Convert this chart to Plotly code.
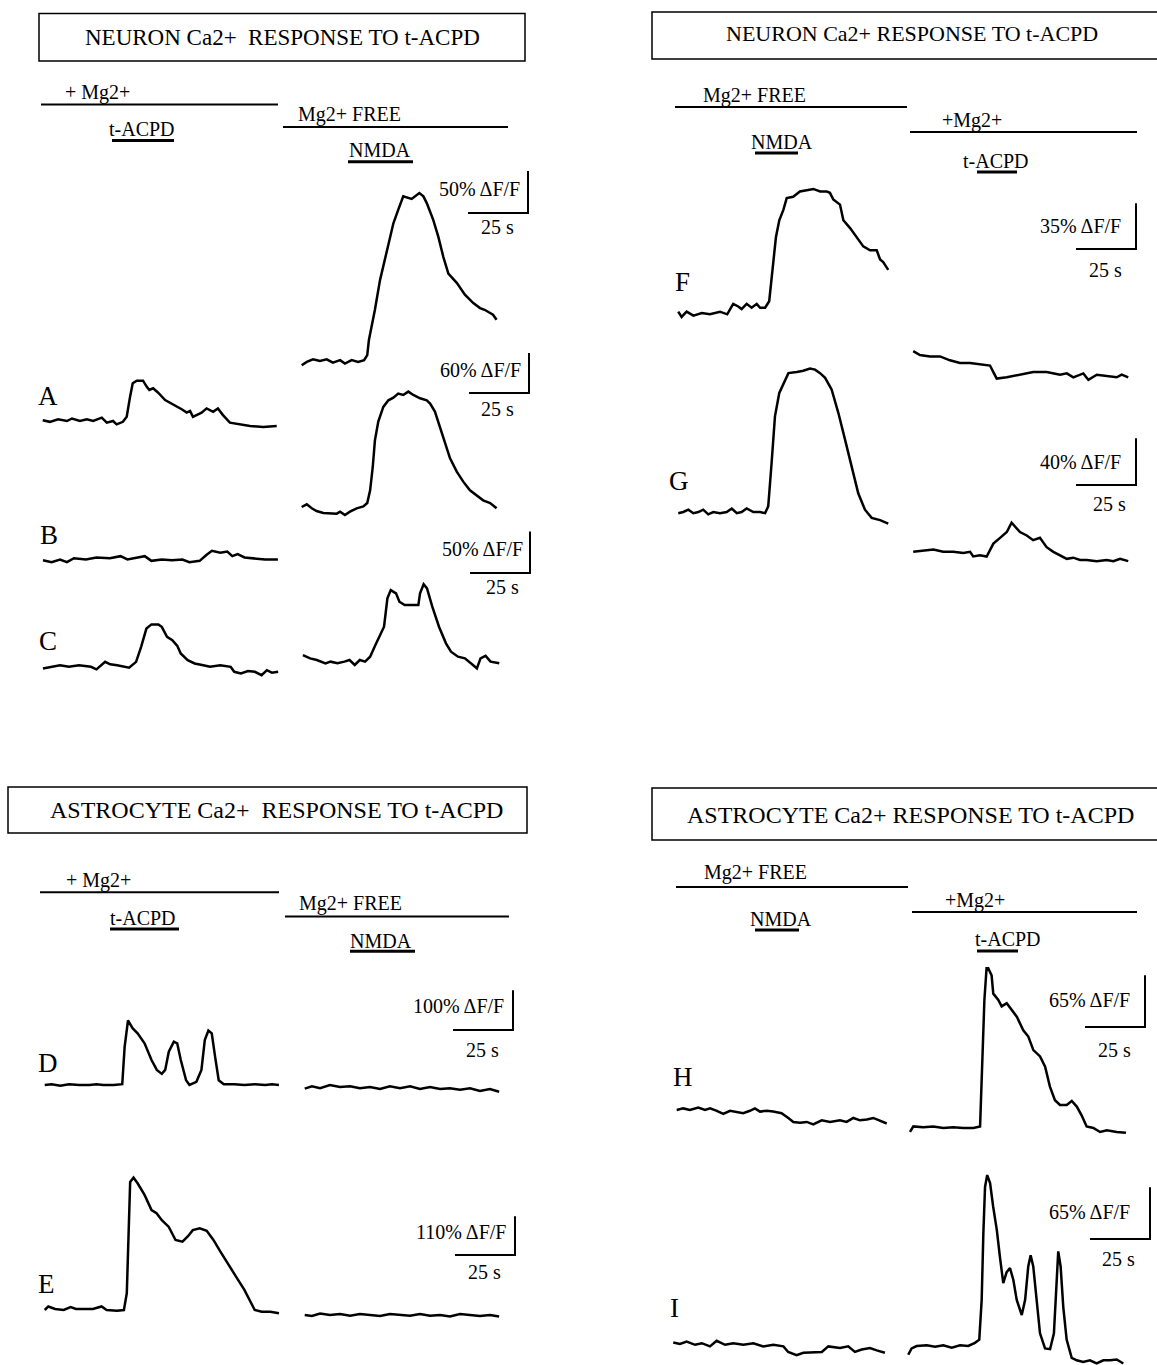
import plotly.graph_objects as go

W, H = 1157, 1365
KX = 2.4  # pixels per second (25 s scale bar = 60 px)
FONT = "Liberation Serif, Times New Roman, serif"

# ---------------- data: (time s, dF/F %) ----------------
a_left = [(0.3,1),(3.3,-1),(6.7,2),(10.4,0),(12.5,3),(15.8,0),(18.7,2),(21.3,0),(24.9,4),(27,-2),(29.6,0),(31.1,-4),(33.7,-1),(35.3,5),(36.7,29),(37.8,45),(39.5,48),(42.1,48),(43.6,41),(44.7,37),(46.3,39),(48.3,34),(51.3,25),(53.3,22),(55.4,19),(58.2,14),(60.3,10),(61.7,12),(62.9,5),(64.5,7),(66.5,10),(68.6,15),(71.3,11),(73.3,15),(75.4,7),(78.3,-2),(82.5,-4),(86.7,-6),(92.1,-7),(97.8,-6)]
a_right = [(0.3,-5),(2.4,-1),(5,2),(7.9,0),(10.7,2),(13.3,-2),(16.3,1),(18.3,-3),(21.1,1),(23.8,-1),(26.3,1),(27.6,7),(28.3,25),(30.8,61),(32.9,96),(35.7,129),(38.5,164),(40.5,180),(42.6,196),(46.1,193),(49.3,200),(51,196),(52.4,188),(55.1,168),(57.2,148),(59.3,124),(61.4,104),(64.9,93),(68.3,79),(71.8,69),(74.6,63),(76.5,61),(78.8,57),(80,55),(81.5,49)]
b_left = [(0.4,-1),(4,-4),(7.5,0),(10.4,-4),(13.3,2),(18.3,0),(22.7,3),(28.3,2),(32.7,5),(35.6,0),(39.9,3),(42.8,5),(45.6,-2),(49.9,0),(54.2,-1),(58.5,0),(61.4,-4),(65.7,-2),(68.6,7),(70.8,13),(74.3,10),(77.2,12),(79.3,5),(81.5,8),(84.4,3),(87.3,2),(90.1,0),(92.9,0),(98.3,0)]
b_right = [(0.3,6),(2.4,10),(4.5,4),(6.5,0),(9.3,-3),(12.1,-3),(14.9,-4),(16.3,-1),(18.3,-6),(20.4,-1),(23.2,4),(26,7),(27.6,12),(28.8,31),(29.9,66),(30.8,106),(32.2,134),(34.3,156),(36.4,166),(38.5,170),(40.5,176),(42.6,174),(44.7,179),(46.8,174),(49.6,169),(52.4,166),(53.8,161),(55.8,149),(57.9,126),(60,101),(62.1,79),(64.9,59),(67.6,44),(70.4,31),(73.2,24),(75.9,16),(78.8,12),(81.5,4)]
c_left = [(0.4,-3),(4,-1),(7.5,1),(11.2,-1),(15.4,1),(20.4,-1),(22.7,-4),(26.3,5),(28.4,2),(31.3,1),(36.3,-2),(39.2,5),(41.3,23),(43.5,45),(45.6,50),(48.5,50),(49.9,47),(52.1,35),(54.3,31),(56.4,24),(57.8,15),(60.7,7),(63.6,3),(67.2,1),(70,-1),(74.3,1),(78.6,-1),(80.1,-7),(82.9,-9),(85.8,-6),(88.7,-7),(91.5,-11),(93.7,-5),(95.8,-8),(98.4,-7)]
c_right = [(0.8,6),(3.8,2),(6.6,0),(10.2,-4),(12.3,-2),(15.2,-4),(18.1,-2),(20.2,0),(22.4,-6),(24.5,0),(26.7,-2),(28.8,4),(31,18),(33.1,32),(34.6,40),(36,74),(37.4,84),(39.6,80),(41,70),(43.2,66),(46,66),(48.9,66),(49.6,80),(51.1,91),(52.5,86),(54.7,64),(57.5,40),(60.4,20),(62.5,10),(65.4,4),(68.3,2),(70.4,-3),(73.3,-10),(74.8,2),(76.9,5),(79,-2),(82.6,-4)]
f_left = [(0.1,1),(1.5,-3),(3.6,1),(6.4,-2),(9.9,0),(13.3,-1),(17.5,1),(20.5,-1),(23,7),(25.1,5),(26.5,3),(28.6,7),(30.7,4),(32.8,7),(34.2,4),(36.3,4),(38,9),(39.5,33),(40.8,58),(42.2,71),(43.9,79),(45.3,88),(48,89),(50.8,93),(53.6,94),(56.4,95),(59.2,93),(62,93),(63.3,92),(64.7,87),(67.5,83),(68.9,71),(71.7,65),(74.5,58),(77.2,51),(80,48),(82.8,48),(84.2,41),(85.5,39),(87.6,33)]
f_right = [(0.5,19),(3.3,16),(7.5,15),(11.7,15),(15.8,12),(20,10),(24.2,10),(28.3,9),(32.5,8),(33.9,3),(35.3,-2),(39.5,-1),(45,1),(50.5,3),(56.1,3),(61.7,1),(64.5,2),(67.2,-1),(71.4,2),(73.5,-3),(77,1),(81.1,0),(85.3,-1),(87.4,1),(90.1,-1)]
g_left = [(0.1,-1),(2.2,0),(4.3,2),(6.4,-1),(8.5,0),(10.5,2),(12.6,-2),(14.7,0),(17.5,-1),(20.3,0),(22.4,3),(24.5,-1),(26.5,0),(28.6,3),(31.4,0),(34.2,0),(36.3,-1),(37.6,5),(39,42),(40.4,82),(42.2,102),(43.9,110),(46,119),(49.5,120),(52.2,121),(55,123),(57.1,122),(59.2,119),(61.3,115),(64,105),(66.8,85),(69.6,62),(72.4,39),(75.1,16),(77.9,2),(80.7,-5),(84.2,-7),(87.6,-10)]
g_right = [(0.5,1),(4.7,2),(8.9,3),(13,1),(17.2,1),(21.4,0),(24.2,1),(25.5,-3),(28.3,-2),(31.1,-3),(32.5,3),(33.9,8),(36.7,13),(39.5,18),(41.5,26),(42.9,23),(45,18),(47.8,15),(50.5,11),(53.3,13),(56.1,5),(58.9,1),(61.7,-2),(64.5,-5),(67.2,-4),(70,-6),(72.8,-6),(77,-7),(81.1,-6),(83.9,-7),(86.7,-5),(90.1,-7)]
d_left = [(0.3,0),(3.2,2),(6.8,-2),(10.4,2),(14.7,0),(19,0),(21.8,2),(24.7,0),(29,0),(32.6,2),(33.6,96),(35,163),(36.9,143),(39,130),(41.9,105),(44.8,63),(47,38),(49.1,28),(50.5,38),(52,84),(54.1,109),(55.5,105),(57,63),(59.2,12),(60.6,0),(62,4),(63.5,8),(65.6,38),(67,113),(68.5,137),(69.9,130),(71.3,71),(72.8,12),(74.9,2),(79.3,2),(83.5,0),(87.8,2),(92.2,0),(95,2),(97.9,0)]
d_right = [(0.3,1),(3.3,7),(6.7,2),(10.8,10),(15,5),(19.2,7),(23.3,2),(27.5,5),(31.7,0),(35.8,7),(40,2),(44.2,7),(48.3,0),(52.5,5),(56.7,0),(60.8,2),(65,-2),(69.2,2),(73.3,-5),(77.5,0),(81.3,-7)]
e_left = [(0.3,0),(1.8,10),(4.6,3),(8.2,0),(11.1,8),(13.3,3),(16.8,3),(20.4,3),(24,10),(26.1,0),(30.4,-2),(33.3,0),(34.5,48),(35,190),(35.9,364),(37.3,376),(39,360),(41.9,327),(44.8,284),(46.9,275),(49.1,255),(52,236),(54.8,199),(57.7,194),(59.9,209),(62,227),(64.9,232),(67.8,225),(70.6,199),(73.5,166),(76.4,133),(80,95),(83.5,57),(85.7,29),(87.8,0),(90.7,-5),(94.3,-5),(97.9,-9)]
e_right = [(0.3,0),(3.3,-3),(6.7,4),(10.8,0),(15,3),(19.2,-2),(23.3,3),(27.5,0),(31.7,-3),(35.8,3),(40,0),(44.2,-2),(48.3,3),(52.5,-2),(56.7,0),(60.8,-4),(65,3),(69.2,0),(73.3,-3),(77.5,0),(81.3,-4)]
h_left = [(0.3,0),(3,2),(5.8,0),(9.3,3),(12.1,0),(14.2,2),(17,-1),(19.7,-5),(22.5,-1),(25.3,-3),(28,-4),(30.8,-1),(32.9,2),(35,-2),(37.8,-1),(40.5,-2),(44,-4),(46.8,-10),(48.9,-15),(51.7,-16),(54.5,-15),(57.2,-18),(60.7,-13),(64.2,-15),(68.3,-13),(71.1,-15),(73.9,-10),(76.7,-13),(79.5,-12),(82.2,-10),(85,-13),(87.8,-17)]
h_right = [(0,-5),(1.4,2),(5.5,1),(9.7,2),(13.9,0),(18,1),(22.2,0),(26.4,0),(29.2,2),(30,86),(31,161),(31.9,201),(32.6,201),(34,192),(34.7,169),(36.8,161),(38.2,153),(40.3,157),(42.4,148),(44.5,140),(47.2,123),(49.3,115),(51.4,98),(54.2,90),(56.3,77),(58.3,52),(60.4,35),(62.5,29),(65.3,29),(67.4,34),(69.5,27),(71.5,16),(73.6,2),(76.4,0),(79.2,-5),(82,-3),(86.1,-5),(90,-6)]
i_left = [(0.1,2),(2.9,0),(5.7,3),(9.2,-1),(12,1),(15.4,-3),(18.2,4),(21.7,-1),(25.1,1),(29.3,-1),(33.5,1),(37.6,-3),(41.8,-1),(46,-3),(48,-10),(51.5,-14),(54.3,-11),(58.5,-10),(62,-10),(64.7,-3),(69.6,-5),(73,-3),(75.8,-10),(78.6,-7),(82.1,-5),(84.9,-8),(88.3,-11)]
i_right = [(0.1,-11),(1.5,-3),(3.6,0),(7.8,1),(11.3,-1),(14.7,1),(18.2,-2),(21.7,1),(25.1,0),(27.9,4),(29.7,8),(30.7,58),(31.4,142),(32.1,200),(33,215),(34.2,205),(35.5,175),(37,146),(38.3,112),(39.7,79),(41.1,93),(42.5,98),(43.9,83),(45.3,58),(47.4,39),(48.8,58),(50.1,100),(51.1,114),(52.2,100),(53.6,58),(55,16),(57.1,-3),(59.2,-4),(60.8,16),(62,87),(62.6,119),(63.6,100),(64.7,49),(66.1,8),(68.2,-15),(70.3,-18),(73,-20),(75.8,-18),(78.6,-22),(81.4,-18),(84.2,-18),(87,-17),(89.7,-22)]

# scale-bar values per row
row_scale_pct = {"A": 50, "B": 60, "C": 50, "F": 35, "G": 40, "D": 100, "E": 110, "H": 65, "I": 65}
scale_seconds = 25

# ---------------- layout geometry (pixels) ----------------
# name: (data, x of t=0, y of 0 %, px per %)
TRACES = {
    "A_L": (a_left, 42, 421, 0.84),     "A_R": (a_right, 301, 361, 0.84),
    "B_L": (b_left, 42, 559.5, 0.667),  "B_R": (b_right, 301, 511, 0.667),
    "C_L": (c_left, 42, 666, 0.8325),   "C_R": (c_right, 301, 660, 0.8325),
    "F_L": (f_left, 678, 313, 1.306),   "F_R": (f_right, 912, 376, 1.306),
    "G_L": (g_left, 678, 512, 1.167),   "G_R": (g_right, 912, 553, 1.167),
    "D_L": (d_left, 44, 1085, 0.397),   "D_R": (d_right, 304, 1089, 0.397),
    "E_L": (e_left, 44, 1310, 0.352),   "E_R": (e_right, 304, 1315, 0.352),
    "H_L": (h_left, 676, 1110, 0.795),  "H_R": (h_right, 910, 1128, 0.795),
    "I_L": (i_left, 673, 1344, 0.795),  "I_R": (i_right, 908, 1346, 0.795),
}
# scale bar corner (px), label right edge x, label y, "25 s" centre
SCALES = {
    "A": ((528, 213), 522, 189, (497, 227)),
    "B": ((529, 393), 523, 370, (498, 409)),
    "C": ((530, 573), 525, 549, (502, 586.5)),
    "F": ((1136, 249), 1123, 226, (1105, 270)),
    "G": ((1136, 485), 1123, 462, (1109, 504)),
    "D": ((513, 1030), 506, 1005.5, (482, 1050)),
    "E": ((515, 1255), 508, 1231.5, (484, 1272)),
    "H": ((1145, 1027), 1132, 1000, (1114, 1050)),
    "I": ((1150, 1239), 1132, 1212, (1118, 1259)),
}
LETTERS = {"A": (48, 396), "B": (49, 535), "C": (48, 641), "F": (682, 282), "G": (679, 481),
           "D": (48, 1063), "E": (46, 1284), "H": (683, 1077), "I": (674, 1308)}

# panel headers: boxes, texts, lines
BOXES = [((39, 13.5, 525, 61), "NEURON Ca2+  RESPONSE TO t-ACPD", (282, 37), 23),
         ((652, 12, 1165, 59), "NEURON Ca2+ RESPONSE TO t-ACPD", (912, 33), 22),
         ((8, 787, 527, 833), "ASTROCYTE Ca2+  RESPONSE TO t-ACPD", (276, 810), 24),
         ((652, 788, 1165, 840), "ASTROCYTE Ca2+ RESPONSE TO t-ACPD", (910, 815), 24)]
LABELS = [("+ Mg2+", 97, 93), ("t-ACPD", 142, 128.5), ("Mg2+ FREE", 349, 114), ("NMDA", 380, 150),
          ("Mg2+ FREE", 754, 96), ("+Mg2+", 972, 120), ("NMDA", 782, 142), ("t-ACPD", 996, 160.5),
          ("+ Mg2+", 98, 880.7), ("t-ACPD", 143, 917.5), ("Mg2+ FREE", 350, 903), ("NMDA", 381, 940.7),
          ("Mg2+ FREE", 755, 873), ("+Mg2+", 975, 900), ("NMDA", 781, 919), ("t-ACPD", 1008, 939)]
# (x0, x1, y, width)
BARS = [(41, 278, 104.5, 2), (112, 174, 140.5, 3), (283, 508, 127, 2), (348, 413, 161.7, 3),
        (675, 907, 107, 2), (910, 1137, 132, 2), (755, 798, 153, 3), (977, 1017, 172, 3),
        (40, 279, 892.3, 2), (110, 179, 929, 3), (285, 509, 916.5, 2), (350, 415, 951.3, 3),
        (676, 908, 887, 2), (912, 1137, 912, 2), (755, 799, 930, 3), (977, 1018, 951, 3)]


def px(x):
    return x / W


def py(y):
    return 1 - y / H


fig = go.Figure()
layout = {}
axis_of = {}
for i, (name, (data, x0, yb, k)) in enumerate(TRACES.items(), start=1):
    sfx = "" if i == 1 else str(i)
    axis_of[name] = (sfx, x0, yb, k)
    fig.add_trace(go.Scatter(
        x=[p[0] for p in data], y=[p[1] for p in data], mode="lines",
        line=dict(color="black", width=2.5), xaxis="x" + sfx, yaxis="y" + sfx,
        hoverinfo="skip", showlegend=False))
    layout["xaxis" + sfx] = dict(domain=[0, 1], range=[-x0 / KX, (W - x0) / KX], visible=False,
                                 fixedrange=True, anchor="y" + sfx)
    layout["yaxis" + sfx] = dict(domain=[0, 1], range=[(yb - H) / k, yb / k], visible=False,
                                 fixedrange=True, anchor="x" + sfx)

annotations = []
shapes = []

# scale bars, drawn in the data units of each row's right-hand trace
for row, ((cx, cy), lx, ly, (sx, sy)) in SCALES.items():
    sfx, x0, yb, k = axis_of[row + "_R"]
    tc = (cx - x0) / KX
    vc = (yb - cy) / k
    pct = row_scale_pct[row]
    fig.add_trace(go.Scatter(
        x=[tc - scale_seconds, tc, tc], y=[vc, vc, vc + pct], mode="lines",
        line=dict(color="black", width=2), xaxis="x" + sfx, yaxis="y" + sfx,
        hoverinfo="skip", showlegend=False))
    annotations.append(dict(text=f"{pct}% ΔF/F", x=px(lx), y=py(ly), xref="paper", yref="paper",
                            xanchor="right", yanchor="middle", showarrow=False,
                            font=dict(family=FONT, size=20, color="black")))
    annotations.append(dict(text=f"{scale_seconds} s", x=px(sx), y=py(sy), xref="paper", yref="paper",
                            xanchor="center", yanchor="middle", showarrow=False,
                            font=dict(family=FONT, size=20, color="black")))

for letter, (x, y) in LETTERS.items():
    annotations.append(dict(text=letter, x=px(x), y=py(y), xref="paper", yref="paper",
                            xanchor="center", yanchor="middle", showarrow=False,
                            font=dict(family=FONT, size=27, color="black")))

for (x0, y0, x1, y1), title, (tx, ty), fs in BOXES:
    shapes.append(dict(type="rect", xref="paper", yref="paper", x0=px(x0), x1=px(x1),
                       y0=py(y0), y1=py(y1), line=dict(color="black", width=1.5)))
    annotations.append(dict(text=title, x=px(tx), y=py(ty), xref="paper", yref="paper",
                            xanchor="center", yanchor="middle", showarrow=False,
                            font=dict(family=FONT, size=fs, color="black")))

for text, x, y in LABELS:
    annotations.append(dict(text=text, x=px(x), y=py(y), xref="paper", yref="paper",
                            xanchor="center", yanchor="middle", showarrow=False,
                            font=dict(family=FONT, size=20, color="black")))

for x0, x1, y, w in BARS:
    shapes.append(dict(type="line", xref="paper", yref="paper", x0=px(x0), x1=px(x1),
                       y0=py(y), y1=py(y), line=dict(color="black", width=w)))

fig.update_layout(
    width=W, height=H, autosize=False,
    margin=dict(l=0, r=0, t=0, b=0, pad=0),
    paper_bgcolor="white", plot_bgcolor="rgba(0,0,0,0)",
    showlegend=False, annotations=annotations, shapes=shapes,
    **layout)

fig.write_html("out.html")
